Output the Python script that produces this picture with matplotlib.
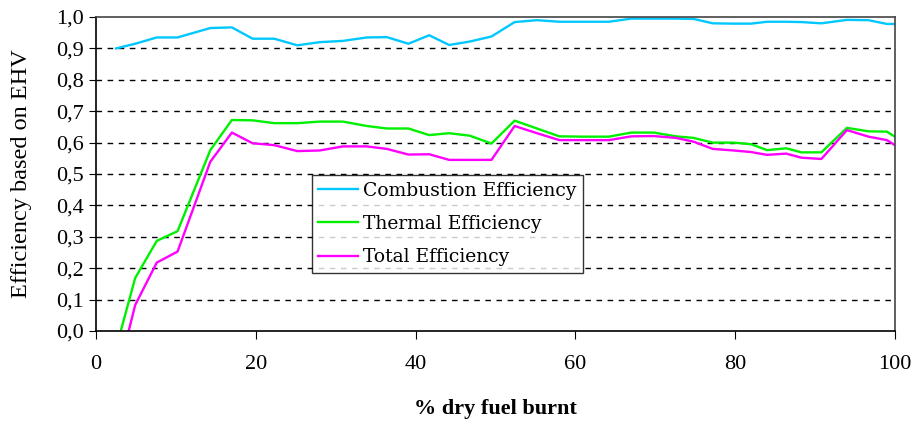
import matplotlib.pyplot as plt
from matplotlib.ticker import FuncFormatter

# % dry fuel burnt
fuel_burnt = [2.5, 4.9, 7.6, 10.2, 14.3, 17.0, 19.6, 22.3, 25.2, 28.0,
              30.9, 33.9, 36.4, 39.1, 41.7, 44.2, 46.8, 49.5, 52.4, 55.2,
              58.0, 61.0, 64.2, 67.0, 69.8, 72.6, 74.8, 77.2, 79.8, 82.0,
              84.0, 86.4, 88.3, 90.8, 94.0, 96.7, 99.0, 100.0]

combustion_eff = [0.900, 0.915, 0.935, 0.935, 0.965, 0.967, 0.931, 0.931, 0.910, 0.920,
                  0.924, 0.935, 0.936, 0.915, 0.942, 0.911, 0.922, 0.938, 0.984, 0.990,
                  0.985, 0.985, 0.985, 0.995, 0.995, 0.995, 0.994, 0.980, 0.979, 0.979,
                  0.985, 0.985, 0.984, 0.980, 0.991, 0.990, 0.978, 0.978]

thermal_eff = [-0.055, 0.169, 0.287, 0.318, 0.576, 0.672, 0.671, 0.662, 0.662, 0.667,
               0.667, 0.653, 0.645, 0.645, 0.624, 0.630, 0.622, 0.597, 0.670, 0.645,
               0.620, 0.619, 0.619, 0.632, 0.632, 0.620, 0.615, 0.600, 0.600, 0.595,
               0.576, 0.582, 0.569, 0.569, 0.647, 0.636, 0.635, 0.619]

total_eff = [-0.16, 0.083, 0.218, 0.253, 0.539, 0.632, 0.598, 0.592, 0.573, 0.575,
             0.588, 0.588, 0.580, 0.562, 0.563, 0.545, 0.545, 0.545, 0.653, 0.630,
             0.608, 0.608, 0.608, 0.620, 0.621, 0.615, 0.603, 0.580, 0.575, 0.570,
             0.561, 0.565, 0.552, 0.548, 0.640, 0.619, 0.608, 0.592]

plt.rcParams['font.family'] = ['Liberation Serif', 'DejaVu Serif']

fig = plt.figure(figsize=(9.15, 4.26), dpi=100)
ax = fig.add_axes([0.105, 0.223, 0.873, 0.737])

ax.plot(fuel_burnt, combustion_eff, color="#00c8ff", linewidth=1.7, label="Combustion Efficiency")
ax.plot(fuel_burnt, thermal_eff, color="#00f000", linewidth=1.7, label="Thermal Efficiency")
ax.plot(fuel_burnt, total_eff, color="#ff00ff", linewidth=1.7, label="Total Efficiency")

ax.set_xlim(0, 100)
ax.set_ylim(0, 1.0)
ax.set_xticks([0, 20, 40, 60, 80, 100])
ax.set_yticks([i / 10 for i in range(11)])
ax.yaxis.set_major_formatter(FuncFormatter(lambda v, p: f"{v:.1f}".replace(".", ",")))

# dashed gridlines
for i in range(1, 10):
    ax.axhline(i / 10, color="black", linestyle=(0, (4, 4)), linewidth=1.0, zorder=0)

for s in ax.spines.values():
    s.set_color("#444444")
    s.set_linewidth(1.2)
ax.spines['left'].set_color("black")
ax.spines['bottom'].set_color("black")

ax.tick_params(axis="x", direction="out", length=6, pad=11, labelsize=16)
ax.tick_params(axis="y", direction="out", length=5, pad=4, labelsize=16)

ax.set_xlabel("% dry fuel burnt", fontsize=16, fontweight="bold", labelpad=18)
ax.set_ylabel("Efficiency based on EHV", fontsize=17.5)
ax.yaxis.set_label_coords(-0.080, 0.5)

leg = ax.legend(loc="upper left", bbox_to_anchor=(0.27, 0.497), borderaxespad=0,
                prop={'family': 'DejaVu Serif', 'size': 13.5},
                frameon=True, fancybox=False, edgecolor="black",
                handlelength=2.1, handletextpad=0.3, labelspacing=0.82, borderpad=0.35)
leg.get_frame().set_linewidth(1.0)

fig.savefig("out.png", dpi=100)
